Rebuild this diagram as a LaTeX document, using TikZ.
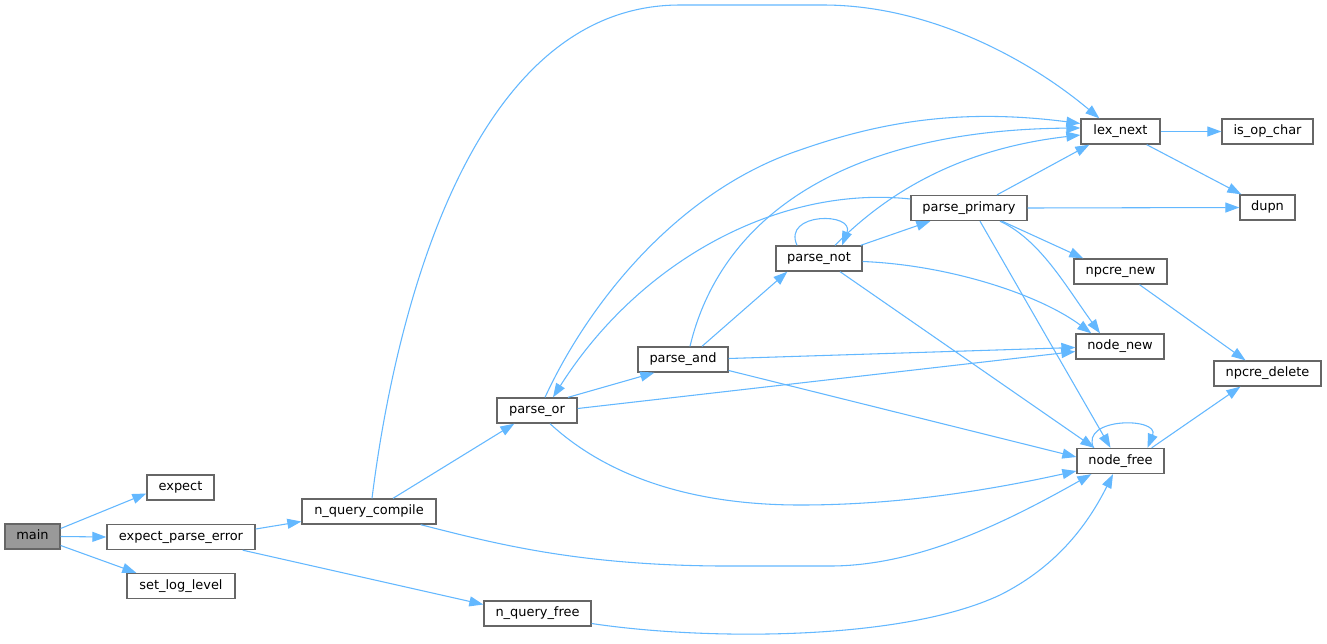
\documentclass[tikz,border=0pt]{standalone}
\usepackage{fontspec}
\setmainfont{DejaVu Sans}
\usetikzlibrary{arrows.meta,calc}
\definecolor{edgecol}{HTML}{63B8FF}
\definecolor{nodeborder}{HTML}{666666}
\definecolor{mainfill}{HTML}{999999}
\begin{document}
\begin{tikzpicture}[x=0.75pt,y=-0.75pt,
  fn/.style={draw=nodeborder,fill=white,line width=1pt,minimum height=18.75pt,inner sep=0pt,font=\fontsize{9.7pt}{11pt}\selectfont,text height=7pt,text depth=2pt},
  wd/.style={minimum width=#1*0.75pt},
  call/.style={draw=edgecol,line width=0.8pt,-{Triangle[length=10.5pt,width=7.5pt]}}]
\fill[white] (0,0) rectangle (1327,643);
\useasboundingbox (0,0) rectangle (1327,643);

\node[fn,wd=55,fill=mainfill] (main) at (32.5,536.5) {main};
\node[fn,wd=67] (expect) at (180.5,487.5) {expect};
\node[fn,wd=148] (epe) at (181,537) {expect\_parse\_error};
\node[fn,wd=108] (sll) at (181,586) {set\_log\_level};
\node[fn,wd=134] (nqc) at (369,511.5) {n\_query\_compile};
\node[fn,wd=107] (nqf) at (537.5,613.5) {n\_query\_free};
\node[fn,wd=80] (por) at (537,410.5) {parse\_or};
\node[fn,wd=90] (pand) at (683,359.5) {parse\_and};
\node[fn,wd=86] (pnot) at (819,258.5) {parse\_not};
\node[fn,wd=116] (pprim) at (969,208) {parse\_primary};
\node[fn,wd=79] (lex) at (1120.5,131.5) {lex\_next};
\node[fn,wd=91] (isop) at (1267.5,131.5) {is\_op\_char};
\node[fn,wd=55] (dupn) at (1267.5,207.5) {dupn};
\node[fn,wd=93] (npnew) at (1120.5,271.5) {npcre\_new};
\node[fn,wd=88] (nnew) at (1120,346.5) {node\_new};
\node[fn,wd=107] (npdel) at (1267.5,373.5) {npcre\_delete};
\node[fn,wd=87] (nfree) at (1120.5,461) {node\_free};

\draw[call] ($(main.east)+(0,-8)$) -- ($(expect.west)+(0,6)$);
\draw[call] (main.east) -- (epe.west);
\draw[call] ($(main.east)+(0,9)$) -- ($(sll.north west)+(10,0)$);
\draw[call] ($(epe.east)+(0,-8)$) -- ($(nqc.west)+(0,10)$);
\draw[call] ($(epe.south east)+(-13,0)$) -- ($(nqf.west)+(0,-9)$);
\draw[call] ($(nqc.north)+(3,0)$) .. controls (393,330) and (465,5) .. (680,5) -- (823,5) .. controls (930,5) and (1030,60) .. ($(lex.north west)+(19,0)$);
\draw[call] ($(nqc.south east)+(-16,0)$) .. controls (500,545) and (580,565) .. (720,566) -- (830,566) .. controls (920,566) and (1010,520) .. ($(nfree.south west)+(15,0)$);
\draw[call] ($(nqc.north)+(24,0)$) -- ($(por.south west)+(18,0)$);
\draw[call] ($(nqf.east)+(0,10)$) .. controls (700,640) and (900,642) .. (1000,595) .. controls (1060,565) and (1090,520) .. ($(nfree.south)+(-7.5,0)$);
\draw[call] ($(por.north)+(8,0)$) .. controls (590,300) and (680,190) .. (800,150) .. controls (880,122) and (960,108) .. ($(lex.west)+(0,-8)$);
\draw[call] ($(por.south)+(13,0)$) .. controls (600,470) and (680,505) .. (800,505) .. controls (900,505) and (990,490) .. ($(nfree.west)+(0,10)$);
\draw[call] ($(por.east)+(0,-2)$) -- ($(nnew.west)+(0,5)$);
\draw[call] ($(por.north)+(31,0)$) -- ($(pand.south west)+(17,0)$);
\draw[call] ($(pand.north)+(7,0)$) .. controls (720,220) and (840,130) .. ($(lex.west)+(0,-3.5)$);
\draw[call] ($(pand.east)+(0,11)$) -- ($(nfree.west)+(0,-4)$);
\draw[call] ($(pand.east)+(0,-1)$) -- ($(nnew.west)+(0,1)$);
\draw[call] ($(pand.north)+(19,0)$) -- ($(pnot.south west)+(12,0)$);
\draw[call] ($(pnot.north)+(16,0)$) .. controls (880,200) and (950,150) .. ($(lex.west)+(0,3.5)$);
\draw[call] ($(pnot.south)+(21,0)$) -- ($(nfree.north west)+(18,0)$);
\draw[call] ($(pnot.east)+(0,3)$) .. controls (950,265) and (1040,295) .. ($(nnew.north west)+(16,0)$);
\draw[call] ($(pnot.north)+(-22,0)$) .. controls (782,212) and (855,212) .. ($(pnot.north)+(23,0)$);
\draw[call] ($(pnot.north east)+(-2,0)$) -- ($(pprim.south west)+(20,0)$);
\draw[call] (pprim.east) -- (dupn.west);
\draw[call] ($(pprim.north)+(28,0)$) -- ($(lex.south west)+(9,0)$);
\draw[call] ($(pprim.south)+(11,0)$) -- ($(nfree.north)+(-10,0)$);
\draw[call] ($(pprim.south)+(31,0)$) .. controls (1040,240) and (1065,285) .. ($(nnew.north)+(-20,0)$);
\draw[call] ($(pprim.south)+(33,0)$) -- ($(npnew.north west)+(10,0)$);
\draw[call] ($(pprim.west)+(0,-9)$) .. controls (780,185) and (640,260) .. ($(por.north)+(16,0)$);
\draw[call] ($(npnew.south)+(19,0)$) -- ($(npdel.north)+(-22,0)$);
\draw[call] ($(nfree.north east)+(-13,0)$) -- ($(npdel.south west)+(27,0)$);
\draw[call] ($(nfree.north)+(-27,0)$) .. controls (1080,417) and (1160,417) .. ($(nfree.north)+(27,0)$);
\draw[call] (lex.east) -- (isop.west);
\draw[call] ($(lex.south east)+(-14,0)$) -- ($(dupn.north west)+(2,0)$);
\end{tikzpicture}
\end{document}
